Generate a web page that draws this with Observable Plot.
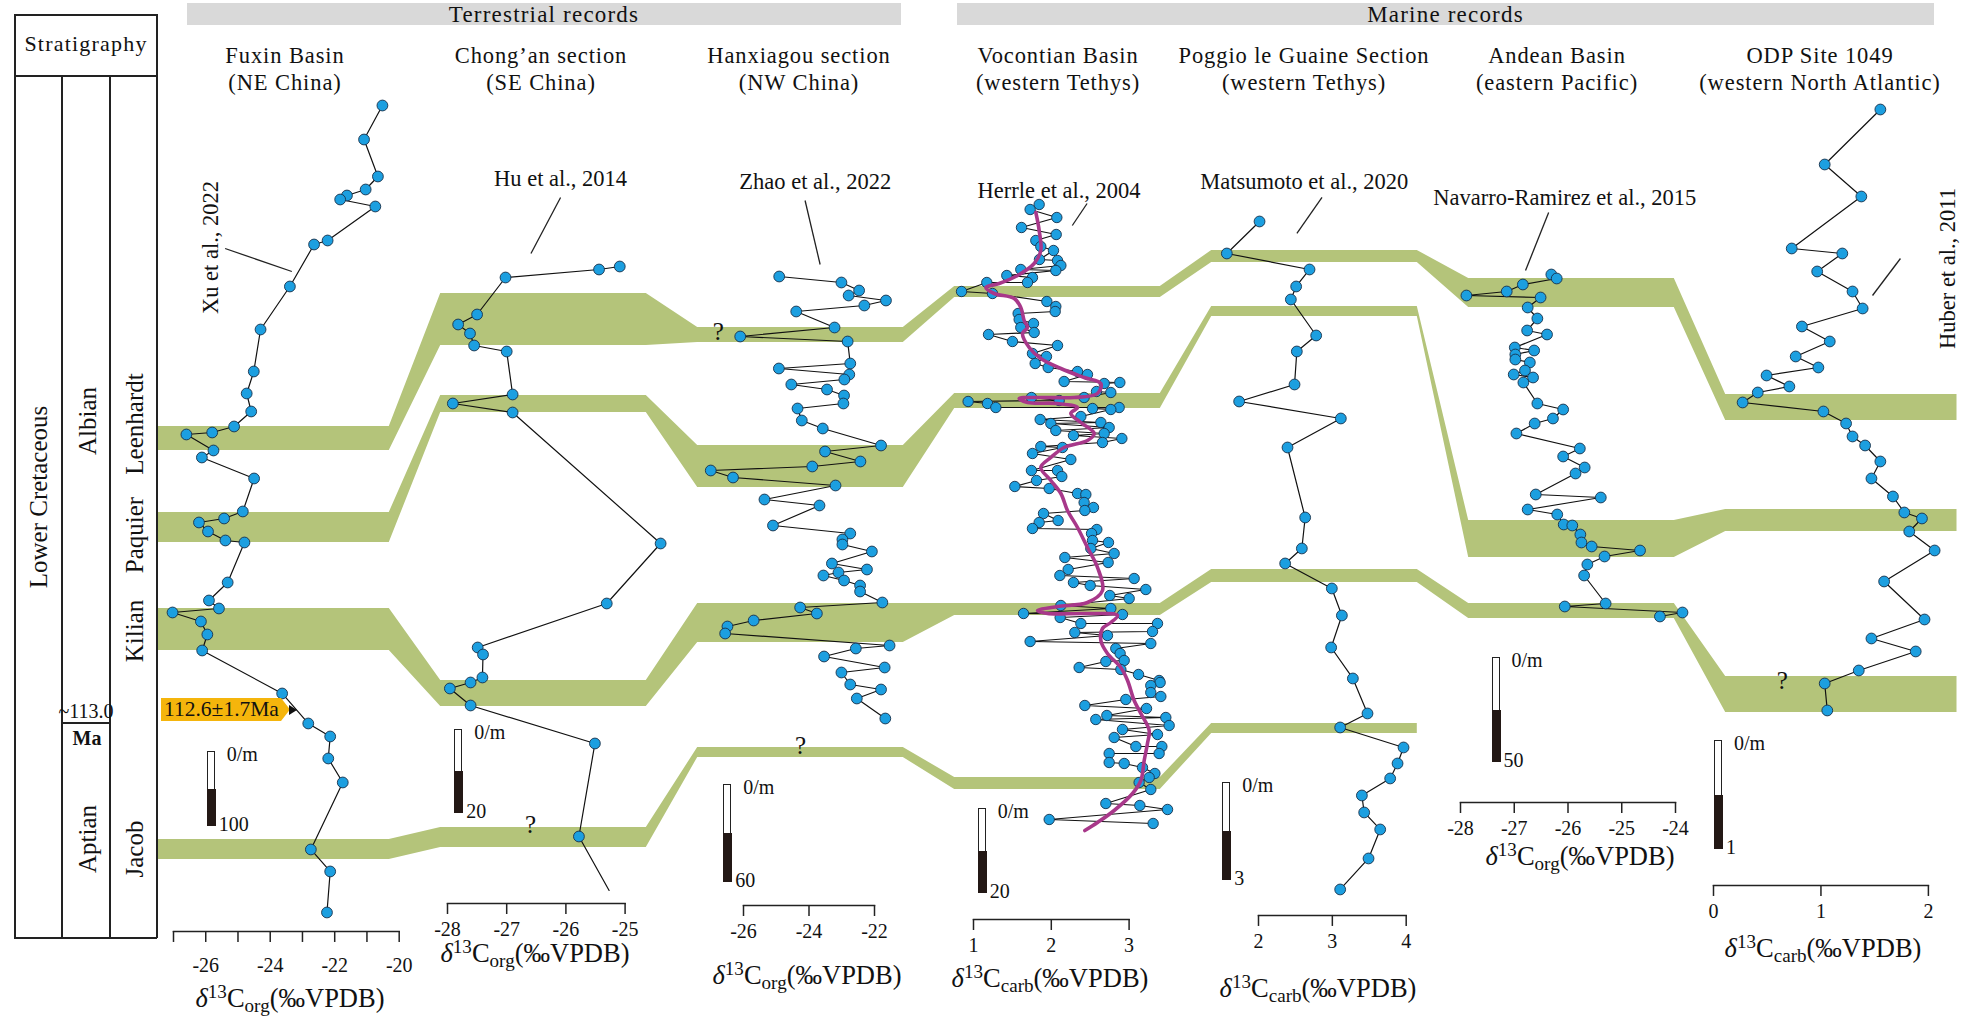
<!DOCTYPE html>
<html><head><meta charset="utf-8">
<script src="https://cdn.jsdelivr.net/npm/d3@7"></script>
<script src="https://cdn.jsdelivr.net/npm/@observablehq/plot@0.6"></script>
<style>
html,body{margin:0;padding:0;background:#fff;}
#root{position:relative;width:1982px;height:1016px;overflow:hidden;font-family:'Liberation Serif','Times New Roman',serif;color:#111;background:#fff;}
#root svg{position:absolute;top:0;}
.t{position:absolute;white-space:nowrap;line-height:1;}
.ax sup{font-size:0.72em;vertical-align:0.45em;line-height:0;}
.ax sub{font-size:0.72em;vertical-align:-0.3em;line-height:0;}
</style></head>
<body><div id="root"></div>
<script>
// ---------------- DATA ----------------
const panelTitles = [
  ["Fuxin Basin","(NE China)"],
  ["Chong\u2019an section","(SE China)"],
  ["Hanxiagou section","(NW China)"],
  ["Vocontian Basin","(western Tethys)"],
  ["Poggio le Guaine Section","(western Tethys)"],
  ["Andean Basin","(eastern Pacific)"],
  ["ODP Site 1049","(western North Atlantic)"]
];
const groupTitles = ["Terrestrial records","Marine records"];
const stratStages = ["Albian","Aptian"];
const stratEvents = ["Leenhardt","Paquier","Kilian","Jacob"];

// Fuxin Basin, d13C org (permil) vs composite level
const fuxinC = [-20.52,-21.09,-20.66,-21.04,-21.62,-21.83,-20.74,-22.22,-22.64,-23.39,-24.30,-24.51,-24.73,-24.59,-25.12,-25.80,-26.60,-25.76,-26.12,-24.50,-24.85,-25.43,-26.21,-25.93,-25.39,-24.80,-25.32,-25.90,-25.59,-27.03,-26.15,-25.95,-26.11,-23.63,-22.82,-22.14,-22.20,-21.75,-22.74,-22.14,-22.24];
const fuxinLevel = [105,139,176,189,195,199,206,240,244,286,329,371,393,411,426,432,434,450,457,478,511,518,522,531,540,542,582,600,608,612,621,634,650,693,723,736,758,782,849,871,912];

// Chong'an section
const chongC = [-25.09,-25.44,-27.02,-27.50,-27.82,-27.62,-27.55,-27.00,-26.90,-27.91,-26.90,-24.40,-25.31,-27.49,-27.40,-27.41,-27.61,-27.96,-27.61,-25.51,-25.78];
const chongLevel = [266,269,277,314,324,333,345,351,394,403,412,543,603,647,654,677,682,688,705,743,836];
const chongTailC = [-25.27];
const chongTailLevel = [890];

// Hanxiagou section
const hanC = [-24.91,-23.01,-22.47,-22.79,-21.65,-22.31,-24.39,-23.22,-26.10,-22.82,-22.74,-24.92,-22.77,-22.92,-24.54,-23.45,-22.93,-22.95,-24.35,-24.22,-23.58,-21.80,-23.51,-22.43,-23.90,-27.00,-26.32,-23.19,-25.36,-23.68,-25.10,-22.74,-22.98,-22.98,-22.08,-23.30,-22.23,-23.10,-23.56,-22.93,-22.44,-22.44,-21.76,-24.27,-23.76,-25.69,-26.49,-26.56,-21.54,-22.57,-23.54,-21.69,-23.01,-22.74,-21.80,-22.54,-21.67];
const hanLevel = [276,282,290,295,300,305,311,327,336,341,363,368,374,379,384,389,395,403,408,420,428,445,451,461,466,470,477,485,499,505,525,533,539,544,551,563,569,572,575,580,585,591,602,607,613,620,626,633,645,648,656,667,672,684,689,698,718];

// Vocontian Basin, d13C carb
const vocC = [1.844,1.728,2.071,1.617,2.063,1.801,1.865,2.028,1.848,2.080,2.123,2.058,1.608,1.428,1.758,1.694,1.171,0.846,1.244,1.943,2.058,2.050,1.574,1.587,1.771,1.608,1.780,1.193,1.501,2.080,1.758,1.938,1.793,1.960,2.337,2.465,2.165,2.680,2.881,2.581,2.765,2.422,1.745,2.101,0.931,1.180,1.287,2.530,2.765,2.872,1.857,2.380,1.994,2.637,2.744,2.058,2.285,2.680,2.658,2.907,1.865,2.144,1.758,2.251,1.745,2.080,1.810,2.135,1.531,1.973,2.337,2.444,2.422,2.542,2.431,1.900,1.844,2.088,1.758,2.517,2.585,2.530,2.735,2.508,2.808,2.174,2.731,2.217,2.110,2.285,2.500,3.065,3.215,2.752,3.001,2.123,2.765,1.643,2.114,2.915,2.380,3.365,2.302,3.301,2.722,1.728,3.279,2.829,2.885,2.701,2.937,2.358,2.894,3.121,3.386,
  3.279,3.399,3.408,3.279,2.958,2.431,3.224,2.714,2.572,3.472,3.515,2.915,3.365,2.808,3.087,3.421,3.386,2.744,2.744,2.937,3.172,3.331,3.258,3.129,3.279,2.701,3.138,3.494,1.973,3.309];
const vocLevel = [204,209,217,227,234,240,246,250,259,260,265,270,269,275,277,282,282,291,293,301,306,311,313,319,323,327,332,334,341,345,353,356,363,367,371,374,381,383,382,391,392,397,397,400,401,403,407,408,409,407,419,416,423,422,427,430,435,433,442,438,446,447,453,459,470,470,480,476,486,488,493,494,502,507,510,513,522,520,528,533,529,540,542,548,553,557,562,569,575,582,585,578,589,595,598,605,608,613,617,614,623,623,632,631,635,641,643,648,653,661,660,667,669,674,680,
  685,682,696,692,699,705,708,715,719,717,725,729,734,737,746,746,753,753,762,763,767,773,777,782,789,803,805,809,819,823];
// Vocontian smoothed curve
const vocSmoothC = [1.801,1.844,1.865,1.780,1.566,1.330,1.159,1.266,1.523,1.608,1.651,1.694,1.630,1.716,1.865,2.123,2.422,2.637,2.594,2.294,1.865,1.587,1.694,2.080,2.337,2.251,2.380,2.551,2.465,2.165,1.994,1.865,1.994,2.123,2.208,2.337,2.465,2.594,2.658,2.465,2.080,1.823,1.951,2.422,2.851,2.765,2.658,2.637,2.722,2.894,2.980,3.065,3.151,3.258,3.236,3.194,3.151,3.044,2.808,2.594,2.431];
const vocSmoothLevel = [212,230,250,263,275,283,287,293,298,307,320,327,333,347,358,368,377,383,393,397,397,398,402,403,407,413,422,433,440,447,457,467,480,493,510,527,547,567,590,602,606,610,613,613,615,622,628,640,653,667,680,700,713,730,743,760,780,793,810,822,830];

// Poggio le Guaine
const pogC = [2.014,1.571,2.691,2.510,2.438,2.781,2.519,2.488,1.738,3.115,2.393,2.632,2.587,2.361,2.993,3.129,2.984,3.278,3.476,3.106,3.964,3.883,3.783,3.400,3.431,3.648,3.490,3.106];
const pogLevel = [221,253,269,286,299,335,351,384,401,418,447,517,548,563,588,615,647,678,713,727,747,763,778,795,812,829,858,889];

// Andean Basin
const andC = [-26.31,-26.21,-26.84,-27.14,-27.89,-26.51,-26.75,-26.57,-26.76,-26.39,-26.99,-26.63,-26.98,-26.98,-26.71,-26.80,-27.01,-26.65,-26.83,-26.57,-26.09,-26.28,-26.62,-26.96,-25.78,-26.09,-25.69,-25.86,-26.60,-25.39,-26.75,-26.20,-26.08,-25.92,-25.77,-25.75,-25.56,-24.66,-25.32,-25.64,-25.70,-25.30,-26.06,-23.87,-24.29];
const andLevel = [274,278,284,291,295,297,307,318,330,334,347,350,354,359,362,370,374,377,382,403,409,418,423,433,448,456,467,473,494,497,509,514,524,525,534,542,546,550,556,564,575,603,606,612,616];

// ODP Site 1049
const odpC = [1.553,1.035,1.376,0.728,1.199,0.965,1.294,1.388,0.823,1.082,0.765,0.976,0.494,0.706,0.412,0.271,1.023,1.234,1.294,1.411,1.553,1.470,1.670,1.776,1.940,1.822,2.058,1.588,1.964,1.470,1.882,1.352,1.035,1.059];
const odpLevel = [109,164,196,248,253,271,291,308,326,341,356,367,375,386,392,402,411,423,436,445,461,478,496,512,518,531,550,581,619,638,651,670,683,710];

// Correlation bands: top / bottom level in each section (Fuxin ... ODP)
const bandNames = ["A","B","C","D"];
const bandTop = [
  [426,293,327,286,250,278,394],
  [512,395,445,393,306,520,509],
  [608,680,603,603,569,603,676],
  [839,827,747,777,723]
];
const bandBottom = [
  [450,345,342,297,262,307,420],
  [542,412,487,408,316,557,531],
  [650,706,642,615,582,618,712],
  [859,847,757,789,733]
];
const queryU = [0.95, 1.68, 2.0, 5.82];
const queryLevel = [824, 331, 745, 680];

// Axes
const axisDomains = [[-27,-20],[-28,-25],[-26,-22],[1,3],[2,4],[-28,-24],[0,2]];
const axisTicks = [[-27,-26,-25,-24,-23,-22,-21,-20],[-28,-27,-26,-25],[-26,-24,-22],[1,2,3],[2,3,4],[-28,-27,-26,-25,-24],[0,1,2]];
const axisLabelTicks = [[-26,-24,-22,-20],[-28,-27,-26,-25],[-26,-24,-22],[1,2,3],[2,3,4],[-28,-27,-26,-25,-24],[0,1,2]];
const axisKinds = ["org","org","org","carb","carb","org","carb"];
const scaleBarLabels = ["100","20","60","20","3","50","1"];
const refTexts = ["Xu et al., 2022","Hu et al., 2014","Zhao et al., 2022","Herrle et al., 2004","Matsumoto et al., 2020","Navarro-Ramirez et al., 2015","Huber et al., 2011"];
const refV = [-25.85,-26.09,-23.81,2.10,2.62,-26.06,2.18];
const refLevel = [247,178,181,190,181,197,268];
const refRotate = [-90,0,0,0,0,0,-90];
const leaderV1 = [-25.40,-26.09,-24.12,2.46,2.86,-26.36,1.74];
const leaderL1 = [248,197,200,203,197,212,258];
const leaderV2 = [-23.33,-26.59,-23.66,2.27,2.52,-26.79,1.48];
const leaderL2 = [271,253,264,225,233,270,295];
const ageLabel = "112.6\u00b11.7Ma";

// ---------------- LAYOUT / STYLE ----------------
const W = 1982, H = 1016;
const SERIF = "'Liberation Serif','Times New Roman',serif";
const GREEN = "#b4c47a";
const BLUE = "#1c9fe0";
const DOTSTROKE = "#173049";
const root = document.getElementById("root");
const panelPx = [[173.3,399],[446.7,624.3],[743.3,874.3],[972.7,1128.3],[1258.3,1406],[1460,1675],[1712.7,1927.6]];
const axisY = [931,903,905,919,915,802,885];
const tickPad = [15,7,7,7,7,7,7];

function div(html, css) {
  const d = document.createElement("div");
  d.className = "t";
  d.innerHTML = html;
  Object.assign(d.style, css);
  root.append(d);
  return d;
}
function ctext(html, cx, cy, size, css = {}) {
  return div(html, Object.assign({left: cx + "px", top: cy + "px", transform: "translate(-50%,-50%)", fontSize: size + "px"}, css));
}
function line(x1, y1, x2, y2, w = 1.6) {
  const d = document.createElement("div");
  Object.assign(d.style, {position: "absolute", background: "#222", left: x1 + "px", top: y1 + "px",
    width: Math.max(w, x2 - x1) + "px", height: Math.max(w, y2 - y1) + "px"});
  root.append(d);
}

// ---------------- BACKGROUND: correlation bands ----------------
const bandRows = [];
bandNames.forEach((name, b) => {
  bandTop[b].forEach((t, i) => {
    const u0 = i === 0 ? -0.5 : i - 0.4;
    const u1 = i === 6 ? 6.5 : i + 0.4;
    bandRows.push({band: name, u: u0, top: t, bot: bandBottom[b][i]});
    bandRows.push({band: name, u: u1, top: t, bot: bandBottom[b][i]});
  });
});
const qRows = queryU.map((u, i) => ({u, level: queryLevel[i]}));
const bg = Plot.plot({
  width: W, height: H, marginLeft: 157.5, marginRight: 25.5, marginTop: 0, marginBottom: 0,
  x: {domain: [-0.5, 6.5], axis: null},
  y: {domain: [0, H], reverse: true, axis: null},
  style: {background: "transparent", overflow: "visible", fontFamily: SERIF},
  marks: [
    Plot.areaY(bandRows, {x: "u", y1: "top", y2: "bot", z: "band", fill: GREEN, curve: "linear"}),
    Plot.text(qRows, {x: "u", y: "level", text: () => "?", fontSize: 25, fontFamily: SERIF, fill: "#111"})
  ]
});
bg.style.left = "0px";
root.append(bg);

// ---------------- PANELS ----------------
function rows(cs, ls) { return cs.map((c, i) => ({c, level: ls[i]})); }
const panelData = [
  rows(fuxinC, fuxinLevel), rows(chongC, chongLevel), rows(hanC, hanLevel),
  d3.sort(rows(vocC, vocLevel), d => d.level), rows(pogC, pogLevel),
  d3.sort(rows(andC, andLevel), d => d.level), rows(odpC, odpLevel)
];
const lineData = panelData.slice();
lineData[1] = panelData[1].concat(rows(chongTailC, chongTailLevel));

panelData.forEach((data, p) => {
  const [pxLo, pxHi] = panelPx[p];
  const mL = 130, mR = 130;
  const ay = axisY[p];
  const labelSet = new Set(axisLabelTicks[p]);
  const marks = [
    Plot.frame({anchor: "bottom", stroke: "#222", strokeWidth: 1.5}),
    Plot.axisX({ticks: axisTicks[p], tickFormat: d => labelSet.has(d) ? String(d) : "", tickSize: 11, tickPadding: tickPad[p],
      fontSize: 20, fontFamily: SERIF, label: null, stroke: "#222", strokeWidth: 1.5, fill: "#111"}),
    Plot.link([0], {x1: () => leaderV1[p], y1: () => leaderL1[p], x2: () => leaderV2[p], y2: () => leaderL2[p], stroke: "#222", strokeWidth: 1.3}),
    Plot.text([refTexts[p]], {x: () => refV[p], y: () => refLevel[p], text: d => d, rotate: refRotate[p], fontSize: 22.5, fontFamily: SERIF, fill: "#111"}),
    Plot.line(lineData[p], {x: "c", y: "level", stroke: "#111", strokeWidth: 1.2})
  ];
  if (p === 3) {
    marks.push(Plot.dot(data, {x: "c", y: "level", r: 5.2, fill: BLUE, stroke: DOTSTROKE, strokeWidth: 0.9}));
    marks.push(Plot.line(rows(vocSmoothC, vocSmoothLevel), {x: "c", y: "level", stroke: "#a8388a", strokeWidth: 3.6, curve: "catmull-rom"}));
  } else {
    marks.push(Plot.dot(data, {x: "c", y: "level", r: 5.4, fill: BLUE, stroke: DOTSTROKE, strokeWidth: 0.9}));
  }
  const svg = Plot.plot({
    width: pxHi - pxLo + mL + mR, height: H,
    marginLeft: mL, marginRight: mR, marginTop: 0, marginBottom: H - ay,
    x: {domain: axisDomains[p], axis: null, label: null},
    y: {domain: [0, ay], reverse: true, axis: null, label: null},
    style: {background: "transparent", overflow: "visible", fontFamily: SERIF, fontSize: "20px", color: "#111"},
    marks
  });
  svg.style.left = (pxLo - mL) + "px";
  root.append(svg);
});

// ---------------- TEXT / DECORATIONS (HTML) ----------------
// group header bars
const groupSpans = [[187, 901], [957, 1934]];
groupTitles.forEach((g, i) => {
  const [a, b] = groupSpans[i];
  div("", {left: a + "px", top: "3px", width: (b - a) + "px", height: "22px", background: "#d9d9d9"});
  ctext(g, (a + b) / 2, 14, 23, {letterSpacing: "1.2px"});
});
// panel titles
const titleCx = [285, 541, 799, 1058, 1304, 1557, 1820];
panelTitles.forEach((t, i) => {
  ctext(t[0], titleCx[i], 56, 22.5, {letterSpacing: "0.9px"});
  ctext(t[1], titleCx[i], 83, 22.5, {letterSpacing: "0.9px"});
});
// axis titles
const axCx = [290, 535, 807, 1050, 1318, 1580, 1823];
const axCy = [998, 953, 975, 978, 988, 856, 948];
axisKinds.forEach((k, i) => {
  const el = ctext('<i>\u03b4</i><sup>13</sup>C<sub>' + k + '</sub>(\u2030VPDB)', axCx[i], axCy[i], 26.5);
  el.classList.add("ax");
});
// scale bars (thickness legends)
const sbX = [206.7, 454.3, 723.3, 977.7, 1222.3, 1491.5, 1714];
const sbTop = [751, 729, 784, 808, 782, 657, 740];
const sbBot = [826, 813, 882, 893, 880, 762, 849];
scaleBarLabels.forEach((lab, i) => {
  const h = sbBot[i] - sbTop[i];
  div("", {left: sbX[i] + "px", top: sbTop[i] + "px", width: "6px", height: (h / 2) + "px", border: "1.5px solid #222", borderBottom: "none", background: "#fff"});
  div("", {left: sbX[i] + "px", top: (sbTop[i] + h / 2) + "px", width: "9px", height: (h / 2) + "px", background: "#231815"});
  div("0/m", {left: (sbX[i] + 20) + "px", top: (sbTop[i] - 7) + "px", fontSize: "20px"});
  div(lab, {left: (sbX[i] + 12) + "px", top: (sbBot[i] - 12) + "px", fontSize: "20px"});
});
// age tag
div(ageLabel, {left: "161px", top: "698px", width: "118px", height: "23px", lineHeight: "23px", paddingLeft: "3px", paddingRight: "8px",
  fontSize: "21.5px", background: "#f5b50c", clipPath: "polygon(0 0, calc(100% - 9px) 0, 100% 50%, calc(100% - 9px) 100%, 0 100%)"});
div("", {left: "289px", top: "705px", width: "0", height: "0", borderLeft: "8px solid #111", borderTop: "5px solid transparent", borderBottom: "5px solid transparent"});

// stratigraphy column
line(14, 14, 157, 14); line(14, 937, 157, 937);
line(14, 14, 14, 938); line(156, 14, 156, 938);
line(14, 75, 157, 75);
line(61, 75, 61, 938); line(109, 75, 109, 938);
line(61, 722, 109, 722);
ctext("Stratigraphy", 86, 44, 22, {letterSpacing: "1.2px"});
ctext("Lower Cretaceous", 38, 497, 25, {transform: "translate(-50%,-50%) rotate(-90deg)"});
const stageCy = [421, 839];
stratStages.forEach((s, i) => ctext(s, 87, stageCy[i], 25, {transform: "translate(-50%,-50%) rotate(-90deg)"}));
const eventCy = [424, 535, 631, 849];
stratEvents.forEach((s, i) => ctext(s, 134, eventCy[i], 25, {transform: "translate(-50%,-50%) rotate(-90deg)"}));
ctext("~113.0", 86, 711, 20);
ctext("Ma", 87, 738, 20, {fontWeight: "bold"});
</script></body></html>
